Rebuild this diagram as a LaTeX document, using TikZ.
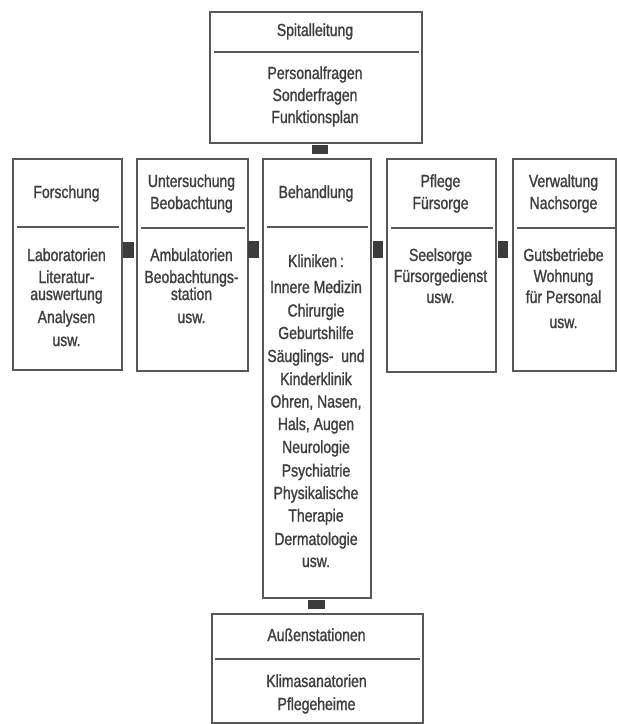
\documentclass[tikz,border=0pt]{standalone}
\usepackage{fontspec}
\setmainfont{Liberation Sans}[FakeStretch=0.8,FakeBold=1.2]
\usetikzlibrary{calc}
\definecolor{linegray}{HTML}{585858}
\definecolor{textgray}{HTML}{3E3E3E}
\definecolor{sqgray}{HTML}{3C3C3C}
\begin{document}
\begin{tikzpicture}[x=1pt,y=-1pt,
  box/.style={draw=linegray, line width=1.6pt, anchor=north west, inner sep=0pt},
  sq/.style={fill=sqgray, draw=none, inner sep=0pt},
  txt/.style={anchor=base, inner sep=0pt, text=textgray, font=\fontsize{17.5}{20}\selectfont},
  divline/.style={draw=linegray, line width=1.4pt}]
\useasboundingbox[fill=white] (0,0) rectangle (617,724);

% boxes
\node[box, minimum width=212, minimum height=131] (top) at (209,11) {};
\node[box, minimum width=109, minimum height=211] (fo) at (12,158) {};
\node[box, minimum width=111, minimum height=212] (un) at (136,158) {};
\node[box, minimum width=108, minimum height=439] (be) at (262,158) {};
\node[box, minimum width=109, minimum height=213] (pf) at (386,158) {};
\node[box, minimum width=103, minimum height=212] (ve) at (512,158) {};
\node[box, minimum width=211, minimum height=109] (au) at (211,613) {};

% dividers
\draw[divline] ($(top.north west)+(5,41)$) -- ($(top.north east)+(-4,41)$);
\draw[divline] ($(fo.north west)+(5,69)$) -- ($(fo.north east)+(-4,69)$);
\draw[divline] ($(un.north west)+(5,70)$) -- ($(un.north east)+(-4,70)$);
\draw[divline] ($(be.north west)+(5,69)$) -- ($(be.north east)+(-4,69)$);
\draw[divline] ($(pf.north west)+(5,70)$) -- ($(pf.north east)+(-4,70)$);
\draw[divline] ($(ve.north west)+(5,70)$) -- ($(ve.north east)+(-2,70)$);
\draw[divline] ($(au.north west)+(4,46)$) -- ($(au.north east)+(-4,46)$);

% connector squares
\node[sq, minimum width=16, minimum height=9] (q0) at (320,149.5) {};
\node[sq, minimum width=11, minimum height=16] (q1) at (128.5,250) {};
\node[sq, minimum width=11, minimum height=17] (q2) at (253.5,249.5) {};
\node[sq, minimum width=10, minimum height=17] (q3) at (378,249.5) {};
\node[sq, minimum width=10, minimum height=17] (q4) at (502.5,249.5) {};
\node[sq, minimum width=17, minimum height=9] (q5) at (316.5,604.5) {};

% texts
\node[txt] (t0) at (315,36) {Spitalleitung};
\foreach \t/\y [count=\i] in {Personalfragen/79, Sonderfragen/101, Funktionsplan/123}
  \node[txt] (tb\i) at (315,\y) {\t};

\node[txt] (f0) at (66.5,198) {Forschung};
\foreach \t/\y [count=\i] in {Laboratorien/261, Literatur-/283, auswertung/300, Analysen/323, usw./346}
  \node[txt] (fb\i) at (66.5,\y) {\t};

\node[txt] (u0a) at (191.5,187) {Untersuchung};
\node[txt] (u0b) at (191.5,209) {Beobachtung};
\foreach \t/\y [count=\i] in {Ambulatorien/261, Beobachtungs-/283, station/300, usw./323}
  \node[txt] (ub\i) at (191.5,\y) {\t};

\node[txt] (b0) at (316,198) {Behandlung};
\node[txt] (bk) at (316,267) {Kliniken\,:};
\foreach \t/\y [count=\i] in {Innere Medizin/293, Chirurgie/316.5, Geburtshilfe/339,
  {Säuglings-\ \ und}/362, Kinderklinik/385, {Ohren, Nasen,}/407.5, {Hals, Augen}/430,
  Neurologie/453, Psychiatrie/476.5, Physikalische/499, Therapie/521.5,
  Dermatologie/545, usw./567}
  \node[txt] (bb\i) at (316,\y) {\t};

\node[txt] (p0a) at (440.5,187) {Pflege};
\node[txt] (p0b) at (440.5,209) {Fürsorge};
\foreach \t/\y [count=\i] in {Seelsorge/261, Fürsorgedienst/282, usw./303}
  \node[txt] (pb\i) at (440.5,\y) {\t};

\node[txt] (v0a) at (563.5,187) {Verwaltung};
\node[txt] (v0b) at (563.5,209) {Nachsorge};
\foreach \t/\y [count=\i] in {Gutsbetriebe/261, Wohnung/282, für Personal/303, usw./328}
  \node[txt] (vb\i) at (563.5,\y) {\t};

\node[txt] (a0) at (316.5,641) {Außenstationen};
\node[txt] (ab1) at (316.5,687) {Klimasanatorien};
\node[txt] (ab2) at (316.5,710) {Pflegeheime};
\end{tikzpicture}
\end{document}
